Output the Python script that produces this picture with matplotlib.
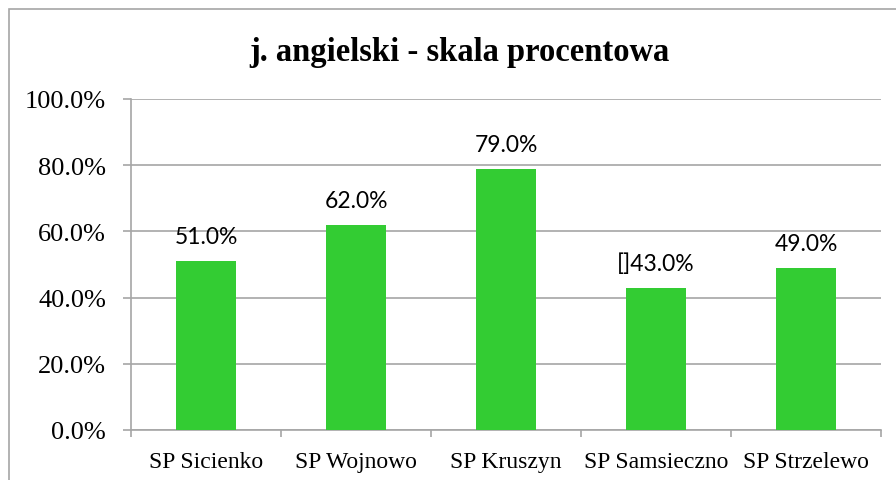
import matplotlib
matplotlib.use("Agg")
import matplotlib.pyplot as plt
from matplotlib.patches import Rectangle

# -----------------------------
# Data
# -----------------------------
schools = ["SP Sicienko", "SP Wojnowo", "SP Kruszyn", "SP Samsieczno", "SP Strzelewo"]
scores = [51.0, 62.0, 79.0, 43.0, 49.0]
labels = ["51.0%", "62.0%", "79.0%", "[]43.0%", "49.0%"]
y_ticks = [0, 20, 40, 60, 80, 100]

bar_color = "#33CC33"
grid_color = "#A6A6A6"
serif = "Liberation Serif"
sans = "Lato"

# -----------------------------
# Figure
# -----------------------------
fig = plt.figure(figsize=(8.96, 4.81), dpi=100)
ax = fig.add_axes([0.1462, 0.1040, 0.8371, 0.6881])

# outer chart frame
fig.patches.append(Rectangle((9 / 896, -0.1), 1.2, 1.1 - 10 / 481 + 0.001,
                             transform=fig.transFigure, fill=False,
                             edgecolor=grid_color, linewidth=1.2))

x = list(range(len(schools)))
ax.bar(x, scores, width=0.4, color=bar_color, zorder=3)

for xi, val, lab in zip(x, scores, labels):
    ax.annotate(lab, (xi, val), xytext=(0, 10), textcoords="offset points",
                ha="center", va="bottom", fontsize=16.5, family=sans,
                color="#000000", zorder=4)

ax.set_xlim(-0.5, len(schools) - 0.5)
ax.set_ylim(0, 100)
ax.set_yticks(y_ticks)
ax.set_yticklabels([f"{t:.1f}%" for t in y_ticks], family=serif, fontsize=19)
ax.yaxis.grid(True, color=grid_color, linewidth=1.2, zorder=0)
ax.tick_params(axis="y", length=6, width=1.2, color=grid_color, pad=12)

# category ticks sit between the bars
ax.set_xticks([i - 0.5 for i in range(len(schools) + 1)], minor=False)
ax.set_xticklabels([""] * (len(schools) + 1))
ax.set_xticks(x, minor=True)
ax.set_xticklabels(schools, minor=True, family=serif, fontsize=17)
ax.tick_params(axis="x", which="major", length=5, width=1.2, color=grid_color)
ax.tick_params(axis="x", which="minor", length=0, pad=15)

for side in ["top", "right"]:
    ax.spines[side].set_visible(False)
for side in ["left", "bottom"]:
    ax.spines[side].set_color(grid_color)
    ax.spines[side].set_linewidth(1.2)

fig.text(0.5125, 1 - 53 / 481, "j. angielski - skala procentowa", ha="center",
         va="center", family=serif, fontsize=23.5, fontweight="bold")

fig.savefig("out.png", dpi=100)
